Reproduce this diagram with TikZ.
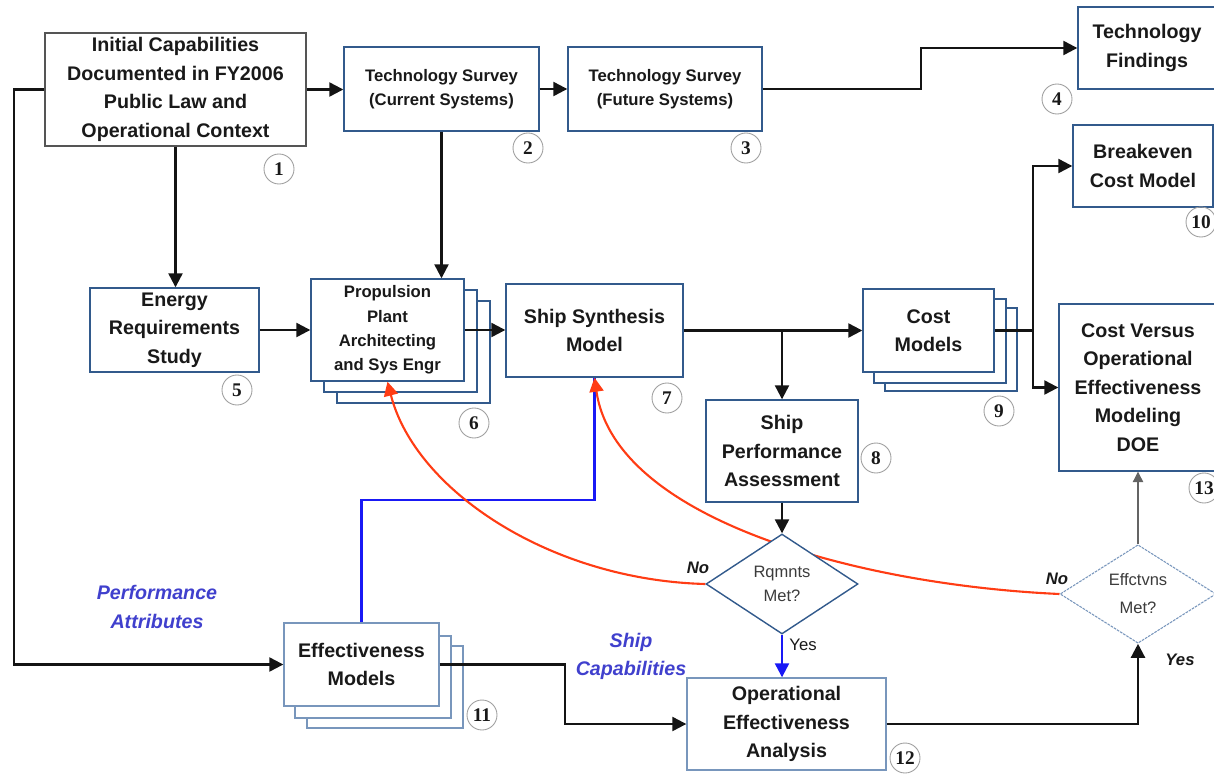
\documentclass[tikz,border=0pt]{standalone}
\usepackage{fontspec}
\setmainfont{Liberation Sans}
\newfontfamily\numfont{Liberation Serif}
\usetikzlibrary{arrows.meta,shapes.geometric,calc}
\definecolor{boxblue}{RGB}{50,90,140}
\definecolor{lightbox}{RGB}{120,150,188}
\definecolor{boxgray}{RGB}{85,85,85}
\definecolor{redline}{RGB}{255,60,20}
\definecolor{blueline}{RGB}{25,25,245}
\definecolor{labelblue}{RGB}{64,64,205}
\definecolor{txt}{RGB}{25,25,25}
\definecolor{linecol}{RGB}{20,20,20}
\pgfdeclarelayer{background}
\pgfsetlayers{background,main}
\begin{document}
\begin{tikzpicture}[x=0.02cm,y=-0.02cm,
  box/.style={draw=boxblue, line width=0.8pt, fill=white, align=center, inner sep=0pt, text=txt,
    font=\fontsize{11.2}{16.2}\selectfont\bfseries},
  smallbox/.style={box, font=\fontsize{9.5}{14}\selectfont\bfseries},
  backbox/.style={draw=boxblue, line width=0.8pt, fill=white},
  num/.style={circle, draw=gray!75, line width=0.5pt, minimum size=0.6cm, inner sep=0pt, text=txt,
    font=\numfont\fontsize{11}{11}\selectfont\bfseries},
  decision/.style={diamond, draw=boxblue, line width=0.8pt, fill=white, inner sep=0pt, align=center,
    text={rgb,255:red,60;green,60;blue,60}, font=\fontsize{9.4}{13.6}\selectfont},
  conn/.style={draw=linecol, line width=1.3pt},
  arr/.style={conn, -{Triangle[length=8pt,width=8pt]}},
  bluearr/.style={draw=blueline, line width=1.3pt, -{Triangle[length=8pt,width=8pt]}},
  blueln/.style={draw=blueline, line width=1.3pt},
  redarr/.style={draw=redline, line width=1.2pt, -{Triangle[length=8pt,width=8pt]}},
  thinarr/.style={draw={rgb,255:red,100;green,100;blue,100}, line width=0.6pt, -{Triangle[length=6pt,width=6pt]}},
  lbl/.style={inner sep=0pt, text=txt, font=\fontsize{9.5}{11}\selectfont\bfseries\itshape},
  lblup/.style={inner sep=0pt, text=txt, font=\fontsize{9.5}{11}\selectfont},
  blbl/.style={inner sep=0pt, align=center, text=labelblue, font=\fontsize{11.2}{16}\selectfont\bfseries\itshape}
]
\useasboundingbox (0,0) rectangle (1214,774);
\clip (0,0) rectangle (1214,774);

% boxes
\node[box, draw=boxgray, minimum width=5.22cm, minimum height=2.26cm] (n1) at (175.5,89.5)
  {Initial Capabilities\\Documented in FY2006\\Public Law and\\Operational Context};
\node[smallbox, minimum width=3.9cm, minimum height=1.68cm] (n2) at (441.5,89)
  {Technology Survey\\(Current Systems)};
\node[smallbox, minimum width=3.88cm, minimum height=1.68cm] (n3) at (665,89)
  {Technology Survey\\(Future Systems)};
\node[box, minimum width=2.76cm, minimum height=1.64cm] (n4) at (1147,48)
  {Technology\\Findings};
\node[box, minimum width=2.8cm, minimum height=1.64cm] (n10) at (1143,166)
  {Breakeven\\Cost Model};
\node[box, minimum width=3.38cm, minimum height=1.68cm] (n5) at (174.5,330)
  {Energy\\Requirements\\Study};
\node[smallbox, font=\fontsize{9.5}{13.8}\selectfont\bfseries, minimum width=3.06cm, minimum height=2.04cm] (n6) at (387.5,330)
  {Propulsion\\Plant\\Architecting\\and Sys Engr};
\node[box, minimum width=3.54cm, minimum height=1.86cm] (n7) at (594.5,330.5)
  {Ship Synthesis\\Model};
\node[box, minimum width=3.04cm, minimum height=2.04cm] (n8) at (782,451)
  {Ship\\Performance\\Assessment};
\node[box, minimum width=2.62cm, minimum height=1.66cm] (n9) at (928.5,330.5)
  {Cost\\Models};
\node[box, minimum width=3.16cm, minimum height=3.34cm] (n13) at (1138,387.5)
  {Cost Versus\\Operational\\Effectiveness\\Modeling\\DOE};
\node[box, draw=lightbox, minimum width=3.1cm, minimum height=1.66cm] (n11) at (361.5,664.5)
  {Effectiveness\\Models};
\node[box, draw=lightbox, minimum width=3.98cm, minimum height=1.84cm] (n12) at (786.5,724)
  {Operational\\Effectiveness\\Analysis};

% decisions
\node[decision, minimum width=3.04cm, minimum height=2cm] (d1) at (782,584) {Rqmnts\\Met?};
\node[decision, draw=lightbox, line width=0.6pt, dash pattern=on 1.5pt off 0.6pt,
  font=\fontsize{9.4}{15.9}\selectfont, minimum width=3.12cm, minimum height=1.72cm] (d2) at (1138,594) {Effctvns\\Met?};

% numbers
\node[num] (c1) at (279,169) {1};
\node[num] (c2) at (528,148) {2};
\node[num] (c3) at (746,148) {3};
\node[num] (c4) at (1057,99) {4};
\node[num] (c5) at (237,390) {5};
\node[num] (c6) at (474,423) {6};
\node[num] (c7) at (667,398) {7};
\node[num] (c8) at (876,458) {8};
\node[num] (c9) at (999,411) {9};
\node[num] (c10) at (1201,222) {10};
\node[num] (c11) at (482,715) {11};
\node[num] (c12) at (905,758) {12};
\node[num] (c13) at (1204,488) {13};

% connectors
\coordinate (L) at (14,0);
\draw[arr] (n1.west) -- (n1.west -| L) |- (n11.west);
\draw[arr] (n1.south) -- (n1.south |- n5.north);
\draw[arr] (n1.east) -- (n1.east -| n2.west);
\draw[arr] (n2.east) -- (n2.east -| n3.west);
\draw[arr] (n3.east) -- ++(158,0) |- (n4.west);
\draw[arr] (n2.south) -- (n2.south |- n6.north);
\draw[arr] (n5.east) -- (n5.east -| n6.west);
\draw[arr] (n6.east) -- (n6.east -| n7.west);
\draw[arr] (n7.east) -- (n7.east -| n9.west);
\draw[arr] (n8.north |- n7.east) -- (n8.north);
\coordinate (J) at (1033,330.5);
\draw[conn] (n9.east) -- (J);
\draw[arr] (J) |- (n10.west);
\draw[arr] (J) |- (n13.west);
\draw[arr] (n8.south) -- (n8.south |- d1.north);
\draw[bluearr] (d1.south) -- (d1.south |- n12.north);
\draw[arr] (n11.east) -- ++(125,0) |- (n12.west);
\draw[arr] (n12.east) -| (d2.south);
\draw[thinarr] (d2.north) -- (n13.south);

\begin{pgfonlayer}{background}
% stacked back copies
\draw[backbox] (337,301) rectangle (490,403);
\draw[backbox] (324,290) rectangle (477,392);
\draw[backbox] (885,308) rectangle (1017,391);
\draw[backbox] (874,299) rectangle (1006,383);
\draw[backbox, draw=lightbox] (307,646) rectangle (463,728);
\draw[backbox, draw=lightbox] (295,636) rectangle (451,718);
% feedback lines
\draw[blueln] (n11.north) -- ++(0,-122) -| (n7.south);
\draw[redarr] (d1.west) .. controls (550,580) and (415,490) .. (n6.south);
\draw[redarr] (d2.west) .. controls (860,585) and (615,520) .. (n7.south);
\end{pgfonlayer}

% labels
\node[lbl] (no1) at (698,568) {No};
\node[lbl] (no2) at (1057,579) {No};
\node[lblup] (yes1) at (803,645) {Yes};
\node[lbl] (yes2) at (1180,660) {Yes};
\node[blbl] (pa) at (157,607) {Performance\\Attributes};
\node[blbl] (sc) at (631,656) {Ship\\Capabilities};
\end{tikzpicture}
\end{document}
